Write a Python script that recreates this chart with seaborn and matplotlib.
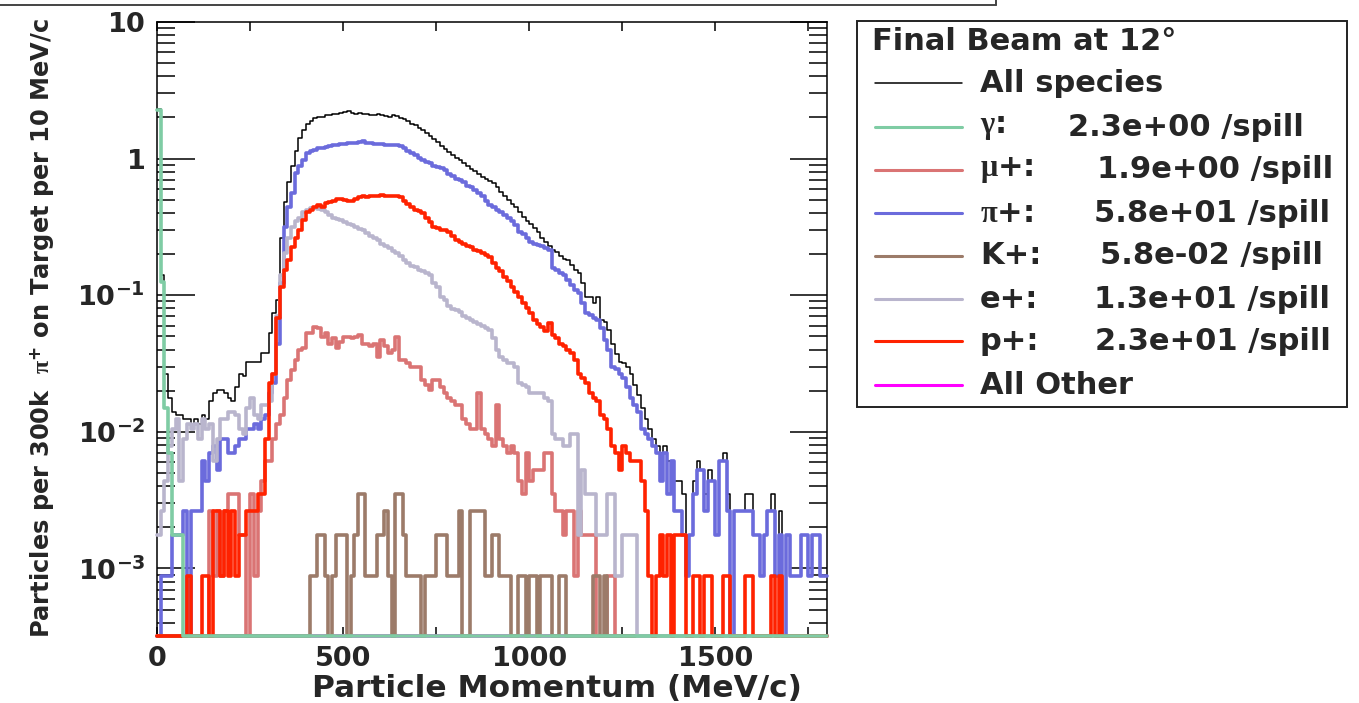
import numpy as np
import pandas as pd
import seaborn as sns
import matplotlib.pyplot as plt
from matplotlib.lines import Line2D
from matplotlib.patches import Rectangle
from matplotlib.ticker import LogLocator, MultipleLocator, NullFormatter

# entries per 10 MeV/c bin, momentum 0 - 1800 MeV/c (180 bins)
bin_width = 10
p_max = 1800
weight = 8.8e-4  # particles per 300k pi+ on target carried by one entry

all_species = [
    2600, 160, 30, 20, 16, 15, 15, 14, 14, 13,
    14, 13, 15, 14, 19, 22, 23, 23, 22, 20,
    19, 24, 30, 29, 37, 37, 37, 37, 43, 43,
    60, 84, 105, 300, 550, 770, 1000, 1300, 1600, 1850,
    2050, 2150, 2250, 2300, 2300, 2350, 2380, 2400, 2420, 2450,
    2480, 2520, 2450, 2420, 2450, 2400, 2430, 2380, 2350, 2400,
    2350, 2330, 2300, 2350, 2320, 2250, 2200, 2150, 2050, 2000,
    1900, 1840, 1750, 1650, 1580, 1500, 1400, 1330, 1280, 1200,
    1150, 1110, 1050, 1000, 960, 920, 880, 830, 810, 780,
    750, 700, 650, 600, 565, 530, 500, 460, 425, 400,
    380, 350, 330, 300, 280, 260, 243, 235, 220, 210,
    207, 190, 175, 165, 140, 110, 110, 100, 110, 75,
    72, 63, 50, 42, 37, 36, 34, 30, 25, 21,
    17, 14, 12, 10, 9, 8, 9, 7, 7, 5,
    5, 4, 1, 2, 5, 7, 6, 4, 6, 5,
    2, 7, 8, 4, 0, 3, 3, 3, 4, 4,
    2, 2, 1, 2, 3, 4, 1, 3, 0, 2,
    1, 1, 1, 2, 2, 1, 2, 2, 1, 1,
]

gamma = [2580, 143, 17, 8, 2, 2, 2] + [0] * 173

mu_plus = [
    0, 0, 0, 0, 0, 0, 0, 0, 0, 0,
    0, 0, 0, 0, 3, 1, 3, 1, 3, 4,
    4, 4, 2, 2, 0, 4, 1, 3, 5, 7,
    7, 10, 13, 15, 20, 27, 32, 38, 45, 47,
    60, 60, 67, 65, 56, 60, 50, 55, 47, 52,
    56, 56, 55, 56, 58, 50, 50, 48, 50, 40,
    53, 48, 43, 45, 56, 38, 38, 36, 34, 34,
    34, 27, 25, 23, 27, 27, 24, 22, 20, 19,
    18, 18, 14, 13, 12, 12, 22, 12, 11, 10,
    9, 18, 10, 9, 8, 9, 8, 5, 4, 8,
    5, 6, 6, 6, 8, 8, 4, 3, 3, 2,
    3, 3, 1, 3, 2, 2, 2, 2, 0, 0,
    0, 1, 1, 0, 0, 0, 0, 0, 0, 0,
] + [0] * 50

pi_plus = [
    0, 1, 1, 1, 2, 2, 2, 3, 0, 3,
    3, 3, 7, 5, 8, 9, 6, 10, 10, 8,
    8, 9, 10, 10, 12, 12, 13, 12, 14, 15,
    22, 26, 50, 140, 360, 500, 640, 890, 1000, 1110,
    1250, 1300, 1320, 1350, 1370, 1380, 1400, 1420, 1430, 1450,
    1460, 1480, 1470, 1490, 1500, 1540, 1480, 1470, 1460, 1450,
    1450, 1440, 1430, 1440, 1420, 1400, 1350, 1300, 1250, 1200,
    1150, 1110, 1080, 1050, 1000, 990, 970, 930, 880, 850,
    810, 790, 760, 720, 700, 670, 640, 600, 560, 520,
    500, 480, 460, 440, 420, 400, 370, 330, 320, 300,
    280, 270, 265, 260, 250, 245, 180, 175, 165, 160,
    147, 135, 125, 118, 100, 84, 82, 78, 75, 65,
    53, 45, 34, 33, 30, 28, 24, 20, 18, 16,
    12, 11, 10, 9, 8, 5, 8, 4, 7, 3,
    3, 2, 1, 2, 4, 6, 6, 3, 5, 5,
    2, 7, 7, 3, 0, 3, 3, 3, 3, 3,
    2, 2, 1, 2, 3, 3, 1, 2, 0, 2,
    1, 1, 1, 2, 2, 1, 2, 2, 1, 1,
]

k_plus = [0] * 40 + [
    0, 1, 1, 2, 2, 1, 0, 1, 2, 2,
    2, 0, 1, 2, 4, 4, 1, 1, 1, 2,
    2, 3, 1, 0, 4, 4, 2, 1, 1, 1,
    1, 0, 1, 1, 1, 2, 2, 2, 1, 1,
    1, 3, 0, 0, 3, 3, 3, 3, 1, 1,
    2, 2, 1, 1, 1, 0, 0, 1, 1, 0,
    1, 1, 0, 1, 1, 1, 0, 0, 1, 1,
    0, 0, 0, 0, 0, 0, 0, 1, 1, 0,
    1, 0, 0, 0, 0, 0, 0, 0, 0, 0,
] + [0] * 50

e_plus = [
    2, 3, 5, 9, 12, 14, 5, 10, 13, 12,
    13, 10, 14, 12, 13, 7, 10, 14, 14, 16,
    16, 15, 12, 11, 17, 20, 15, 14, 18, 18,
    19, 30, 80, 160, 230, 300, 360, 400, 420, 460,
    480, 495, 495, 490, 480, 460, 440, 420, 410, 405,
    390, 380, 370, 360, 345, 340, 325, 310, 300, 290,
    270, 260, 250, 240, 230, 220, 205, 195, 185, 183,
    175, 170, 165, 160, 140, 130, 110, 105, 95, 90,
    89, 85, 80, 78, 75, 72, 70, 68, 65, 63,
    55, 45, 40, 38, 36, 36, 34, 26, 25, 24,
    22, 22, 22, 22, 20, 19, 11, 10, 10, 9,
    9, 11, 11, 2, 6, 4, 4, 4, 2, 2,
    2, 4, 4, 1, 1, 2, 2, 2, 2, 0,
] + [0] * 50

p_plus = [
    0, 0, 0, 0, 0, 0, 0, 0, 1, 0,
    0, 0, 1, 1, 0, 3, 3, 1, 3, 1,
    3, 1, 2, 2, 3, 3, 3, 4, 4, 10,
    26, 30, 78, 130, 174, 207, 255, 300, 343, 405,
    460, 480, 500, 520, 500, 535, 550, 560, 575, 580,
    570, 560, 560, 580, 590, 600, 590, 610, 600, 610,
    620, 610, 600, 600, 600, 590, 560, 530, 500, 480,
    470, 455, 420, 390, 360, 350, 343, 343, 330, 310,
    290, 280, 270, 260, 255, 245, 240, 230, 225, 215,
    195, 180, 170, 155, 145, 130, 120, 110, 100, 92,
    84, 75, 70, 66, 62, 71, 58, 55, 50, 48,
    45, 43, 38, 30, 28, 26, 22, 20, 19, 15,
    14, 12, 9, 8, 6, 9, 8, 7, 7, 7,
    5, 3, 1, 0, 1, 2, 1, 2, 0, 2,
    2, 2, 0, 0, 1, 1, 0, 1, 1, 0,
    0, 0, 1, 1, 0, 0, 0, 0, 1, 1,
    0, 0, 0, 0, 0, 1, 0, 1, 0, 0,
    0, 0, 0, 0, 0, 0, 0, 0, 0, 0,
]

all_other = [0] * 180

legend_title = "Final Beam at 12°"
legend_labels = ["All species", r"$\mathrm{\gamma}$:", r"$\mathrm{\mu}$+:", r"$\mathrm{\pi}$+:",
                 "K+:", "e+:", "p+:", "All Other"]
spill_rates = [None, "2.3e+00 /spill", "1.9e+00 /spill", "5.8e+01 /spill",
               "5.8e-02 /spill", "1.3e+01 /spill", "2.3e+01 /spill", None]

y_ticks = [1e-3, 1e-2, 1e-1, 1, 10]
y_tick_labels = [r"$\mathbf{10^{-3}}$", r"$\mathbf{10^{-2}}$", r"$\mathbf{10^{-1}}$",
                 r"$\mathbf{1}$", r"$\mathbf{10}$"]
x_ticks = [0, 500, 1000, 1500]

# draw order: colour, line width (pt)
styles = {
    "Other": ("#ff00ff", 2.6),
    "All species": ("black", 1.1),
    "pi+": ("#6b6bdc", 2.6),
    "mu+": ("#da7474", 2.6),
    "K+": ("#9c7b69", 2.6),
    "e+": ("#b9b5cd", 2.6),
    "p+": ("#ff2200", 2.6),
    "gamma": ("#7fcca4", 2.6),
}
series = {
    "Other": all_other, "All species": all_species, "pi+": pi_plus, "mu+": mu_plus,
    "K+": k_plus, "e+": e_plus, "p+": p_plus, "gamma": gamma,
}
legend_keys = ["All species", "gamma", "mu+", "pi+", "K+", "e+", "p+", "Other"]

sns.set_style("ticks")
plt.rcParams["font.family"] = ["DejaVu Sans"]
plt.rcParams["font.weight"] = "bold"
plt.rcParams["mathtext.fontset"] = "custom"
plt.rcParams["mathtext.rm"] = "Liberation Serif"
plt.rcParams["mathtext.it"] = "Liberation Serif:italic"
plt.rcParams["mathtext.bf"] = "DejaVu Sans:bold"

W, H = 1359, 703
fig = plt.figure(figsize=(W / 100, H / 100), dpi=100)
ax = fig.add_axes([157 / W, 1 - 636 / H, 670 / W, 614 / H])

y_min, y_max = 3.2e-4, 10
ax.set_yscale("log")

edges = np.arange(0, p_max + bin_width, bin_width)
rows = []
for name, counts in series.items():
    vals = np.clip(np.asarray(counts, float) * weight, y_min, None)  # empty bins sit on the frame
    vals = np.append(vals, vals[-1])
    rows.append(pd.DataFrame({"p": edges, "value": vals, "species": name}))
df = pd.concat(rows, ignore_index=True)

for name in series:
    color, lw = styles[name]
    sns.lineplot(data=df[df["species"] == name], x="p", y="value", drawstyle="steps-post",
                 color=color, linewidth=lw, clip_on=False, zorder=3, ax=ax, errorbar=None)

ax.set_xlim(0, p_max)
ax.set_ylim(y_min, y_max)

ax.set_xticks(x_ticks)
ax.set_xticklabels([str(t) for t in x_ticks])
ax.xaxis.set_minor_locator(MultipleLocator(250))
ax.set_yticks(y_ticks)
ax.set_yticklabels(y_tick_labels)
ax.yaxis.set_minor_locator(LogLocator(base=10, subs=np.arange(2, 10), numticks=20))
ax.yaxis.set_minor_formatter(NullFormatter())

ax.tick_params(axis="both", which="both", direction="in", top=True, right=True,
               width=1.1, color="black", labelsize=19.5)
ax.tick_params(axis="y", which="major", length=27, pad=8.5)
ax.tick_params(axis="y", which="minor", length=13)
ax.tick_params(axis="x", which="both", length=6.5, pad=7)
for s in ax.spines.values():
    s.set_linewidth(1.1)
    s.set_color("black")

ax.set_xlabel("Particle Momentum (MeV/c)", fontsize=22.5, fontweight="bold", ha="right")
ax.xaxis.set_label_coords((802 - 157) / 670, -38 / 614)
ax.set_ylabel(r"Particles per 300k  $\mathrm{\pi}^{\mathbf{+}}$ on Target per 10 MeV/c",
              fontsize=17.4, fontweight="bold")
ax.yaxis.set_label_coords((56 - 157) / 670, 0.502)


def fx(px):
    return px / W


def fy(py):
    return 1 - py / H


# legend box
fig.add_artist(Rectangle((fx(857), fy(407)), fx(1347) - fx(857), fy(21) - fy(407),
                         transform=fig.transFigure, fill=False, edgecolor="#222222", linewidth=1.4))
fig.text(fx(872), fy(41), legend_title, fontsize=22, fontweight="bold", va="center", ha="left")
row_y = [83, 127, 170, 213, 256, 299, 341, 385]
value_x = [None, 1068, 1097, 1094, 1100, 1094, 1095, None]
for key, label, rate, ry, vx in zip(legend_keys, legend_labels, spill_rates, row_y, value_x):
    color, lw = styles[key]
    fig.add_artist(Line2D([fx(875), fx(962)], [fy(ry), fy(ry)], transform=fig.transFigure,
                          color=color, linewidth=min(lw, 2.2)))
    fig.text(fx(980), fy(ry), label, fontsize=22, fontweight="bold", va="center", ha="left")
    if rate is not None:
        fig.text(fx(vx), fy(ry), rate, fontsize=22, fontweight="bold", va="center", ha="left")

# edge of the title box cut off at the top
fig.add_artist(Line2D([0, fx(996)], [fy(5), fy(5)], transform=fig.transFigure,
                      color="#444444", linewidth=1.4))
fig.add_artist(Line2D([fx(996), fx(996)], [fy(5), 1], transform=fig.transFigure,
                      color="#444444", linewidth=1.4))

fig.savefig("out.png", dpi=100, facecolor="white")
